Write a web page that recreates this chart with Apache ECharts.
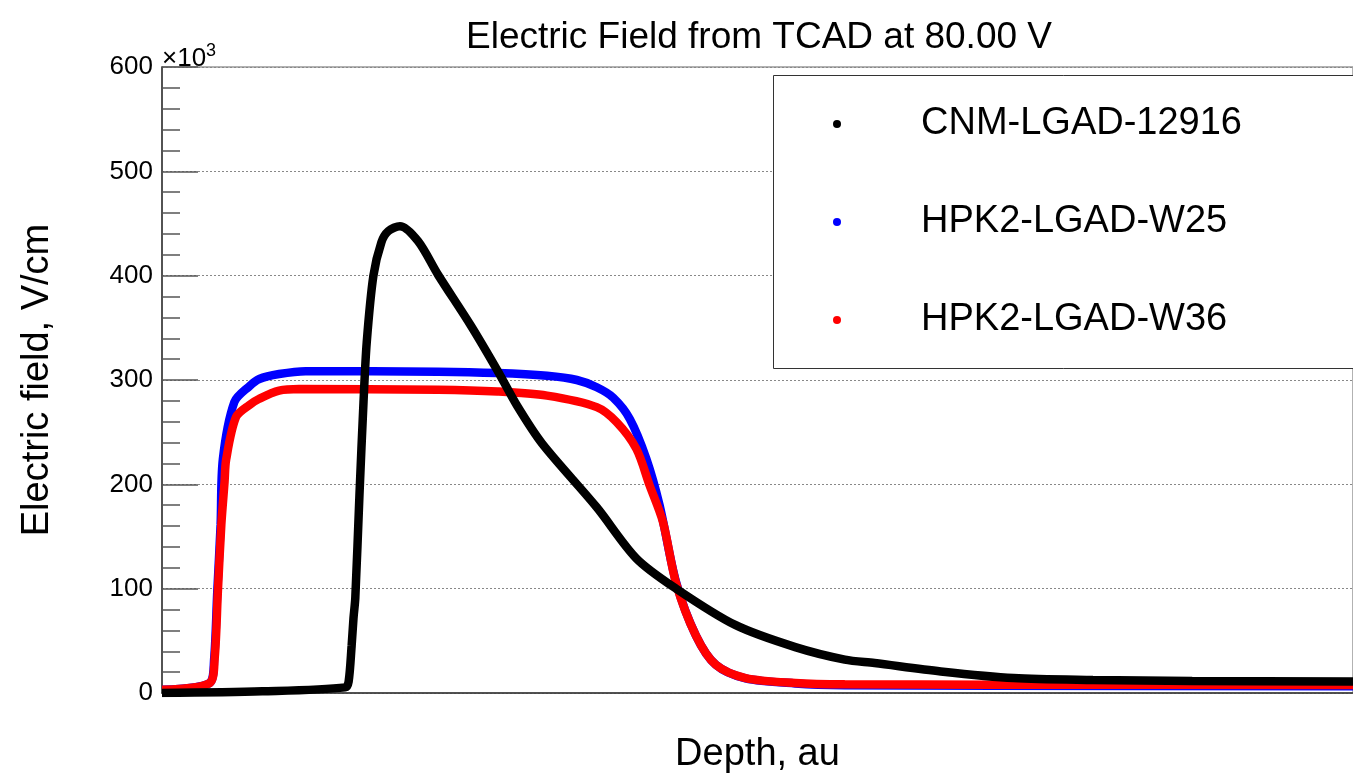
<!DOCTYPE html>
<html>
<head>
<meta charset="utf-8">
<script src="https://cdn.jsdelivr.net/npm/echarts@6/dist/echarts.min.js"></script>
<style>
html,body{margin:0;padding:0;background:#fff;}
#chart{width:1353px;height:779px;}
</style>
</head>
<body>
<div id="chart"></div>
<script>
// Depth (arbitrary units) and electric field (x10^3 V/cm)
const cnmDepth = [0, 8.42, 15.39, 15.67, 15.92, 16.08, 16.23, 16.58, 16.92, 17.19, 17.75, 18.42, 19.0, 19.98, 21.5, 23.17, 25.94, 28.17, 29.83, 31.92, 36.5, 39.83, 43.17, 48.17, 53.17, 57.33, 59.83, 65.39, 71.5, 78.17, 86.5, 100];
const cnmField = [0, 1.6, 5.4, 11, 45, 72, 91, 190, 279, 336, 400, 432, 442.7, 447.4, 433, 401, 352, 309, 275, 239, 178, 129, 100, 65, 44, 32, 28.7, 20.7, 14.3, 12.5, 11.5, 11];

const w25Depth = [0, 4.0, 4.38, 4.64, 4.92, 5.11, 6.08, 7.33, 8.17, 9.83, 12.06, 23.17, 28.17, 32.33, 34.83, 36.5, 37.89, 39.28, 40.67, 41.78, 43.17, 44.83, 46.5, 49.0, 53.17, 57.33, 69.83, 100];
const w25Field = [3, 9.5, 33, 97, 161, 224, 279, 294, 301, 305.7, 308.5, 308, 306.7, 304, 300, 293, 283, 262.7, 224.5, 180, 106, 55, 27, 14, 9.2, 7.5, 7, 6.5];

const w36Depth = [0, 4.0, 4.42, 4.69, 4.98, 5.25, 5.39, 6.22, 7.33, 8.17, 9.83, 11.5, 23.17, 28.17, 32.33, 36.5, 38.17, 39.83, 40.94, 42.06, 43.17, 44.83, 46.5, 49.0, 53.17, 57.33, 69.83, 100];
const w36Field = [3, 9.5, 33, 97, 161, 202, 224, 264.6, 276, 282, 289.8, 291.4, 290.7, 289, 285, 274, 259.6, 234, 199, 164, 105, 55, 27, 14.3, 9.6, 8.3, 8, 7.6];

const seriesNames = ['CNM-LGAD-12916', 'HPK2-LGAD-W25', 'HPK2-LGAD-W36'];
const yTicks = [0, 100, 200, 300, 400, 500, 600];

function pairs(xs, ys){ return xs.map((x,i)=>[x, ys[i]]); }

const FONT = 'Liberation Sans, Arial, Helvetica, sans-serif';
const chart = echarts.init(document.getElementById('chart'));
chart.setOption({
  animation: false,
  backgroundColor: '#fff',
  textStyle: {fontFamily: FONT},
  title: {
    text: 'Electric Field from TCAD at 80.00 V',
    left: 754, top: 14, textAlign: 'center',
    textStyle: {fontFamily: FONT, fontSize: 37, fontWeight: 'normal', color: '#000', lineHeight: 37}
  },
  grid: {left: 162, top: 67, bottom: 84, right: -9, show: true, borderColor: '#999', borderWidth: 1.5},
  legend: {
    orient: 'vertical', left: 773, top: 75,
    padding: [30, 20, 29, 60],
    itemGap: 60, itemWidth: 8, itemHeight: 8, icon: 'circle',
    textStyle: {fontFamily: FONT, fontSize: 38, color: '#000', lineHeight: 38, padding: [0, 0, 0, 75]},
    data: seriesNames,
    z: 20
  },
  graphic: [
    {
      type: 'rect', left: 773, top: 75, z: 15,
      shape: {width: 700, height: 293},
      style: {fill: '#fff', stroke: '#333', lineWidth: 1}
    },
    {
      type: 'text', left: 162, top: 42, z: 10,
      style: {
        text: '{a|×10}{b|3}',
        rich: {
          a: {fontFamily: FONT, fontSize: 26, fill: '#000', verticalAlign: 'bottom', lineHeight: 30},
          b: {fontFamily: FONT, fontSize: 18, fill: '#000', verticalAlign: 'top', lineHeight: 30, padding: [0,0,12,0]}
        }
      }
    }
  ],
  xAxis: {
    type: 'value', min: 0, max: 100,
    name: 'Depth, au', nameLocation: 'middle', nameGap: 43,
    nameTextStyle: {fontFamily: FONT, fontSize: 38, color: '#000', lineHeight: 38},
    axisLine: {show: true, onZero: false, lineStyle: {color: '#333', width: 1.5}},
    axisTick: {show: false}, axisLabel: {show: false}, splitLine: {show: false}
  },
  yAxis: {
    type: 'value', min: yTicks[0], max: yTicks[yTicks.length-1], interval: 100,
    name: 'Electric field, V/cm', nameLocation: 'middle', nameGap: 105,
    nameTextStyle: {fontFamily: FONT, fontSize: 38, color: '#000', lineHeight: 38},
    axisLine: {show: true, lineStyle: {color: '#333', width: 1.5}},
    axisTick: {show: true, inside: true, length: 36, lineStyle: {color: '#555', width: 1.5}},
    minorTick: {show: true, splitNumber: 5, length: 18, lineStyle: {color: '#555', width: 1.5}},
    axisLabel: {fontFamily: FONT, fontSize: 26, color: '#000', margin: 9},
    splitLine: {show: true, lineStyle: {color: '#888', type: [2, 2], width: 1}}
  },
  series: [
    {name: seriesNames[1], type: 'line', data: pairs(w25Depth, w25Field), showSymbol: false, symbol: 'circle', smooth: 0.3, itemStyle: {color: '#0000ff'}, lineStyle: {color: '#0000ff', width: 8.5}, z: 2},
    {name: seriesNames[2], type: 'line', data: pairs(w36Depth, w36Field), showSymbol: false, symbol: 'circle', smooth: 0.3, itemStyle: {color: '#ff0000'}, lineStyle: {color: '#ff0000', width: 8.5}, z: 3},
    {name: seriesNames[0], type: 'line', data: pairs(cnmDepth, cnmField), showSymbol: false, symbol: 'circle', smooth: 0.3, itemStyle: {color: '#000000'}, lineStyle: {color: '#000000', width: 8.5}, z: 4}
  ]
});
</script>
</body>
</html>
